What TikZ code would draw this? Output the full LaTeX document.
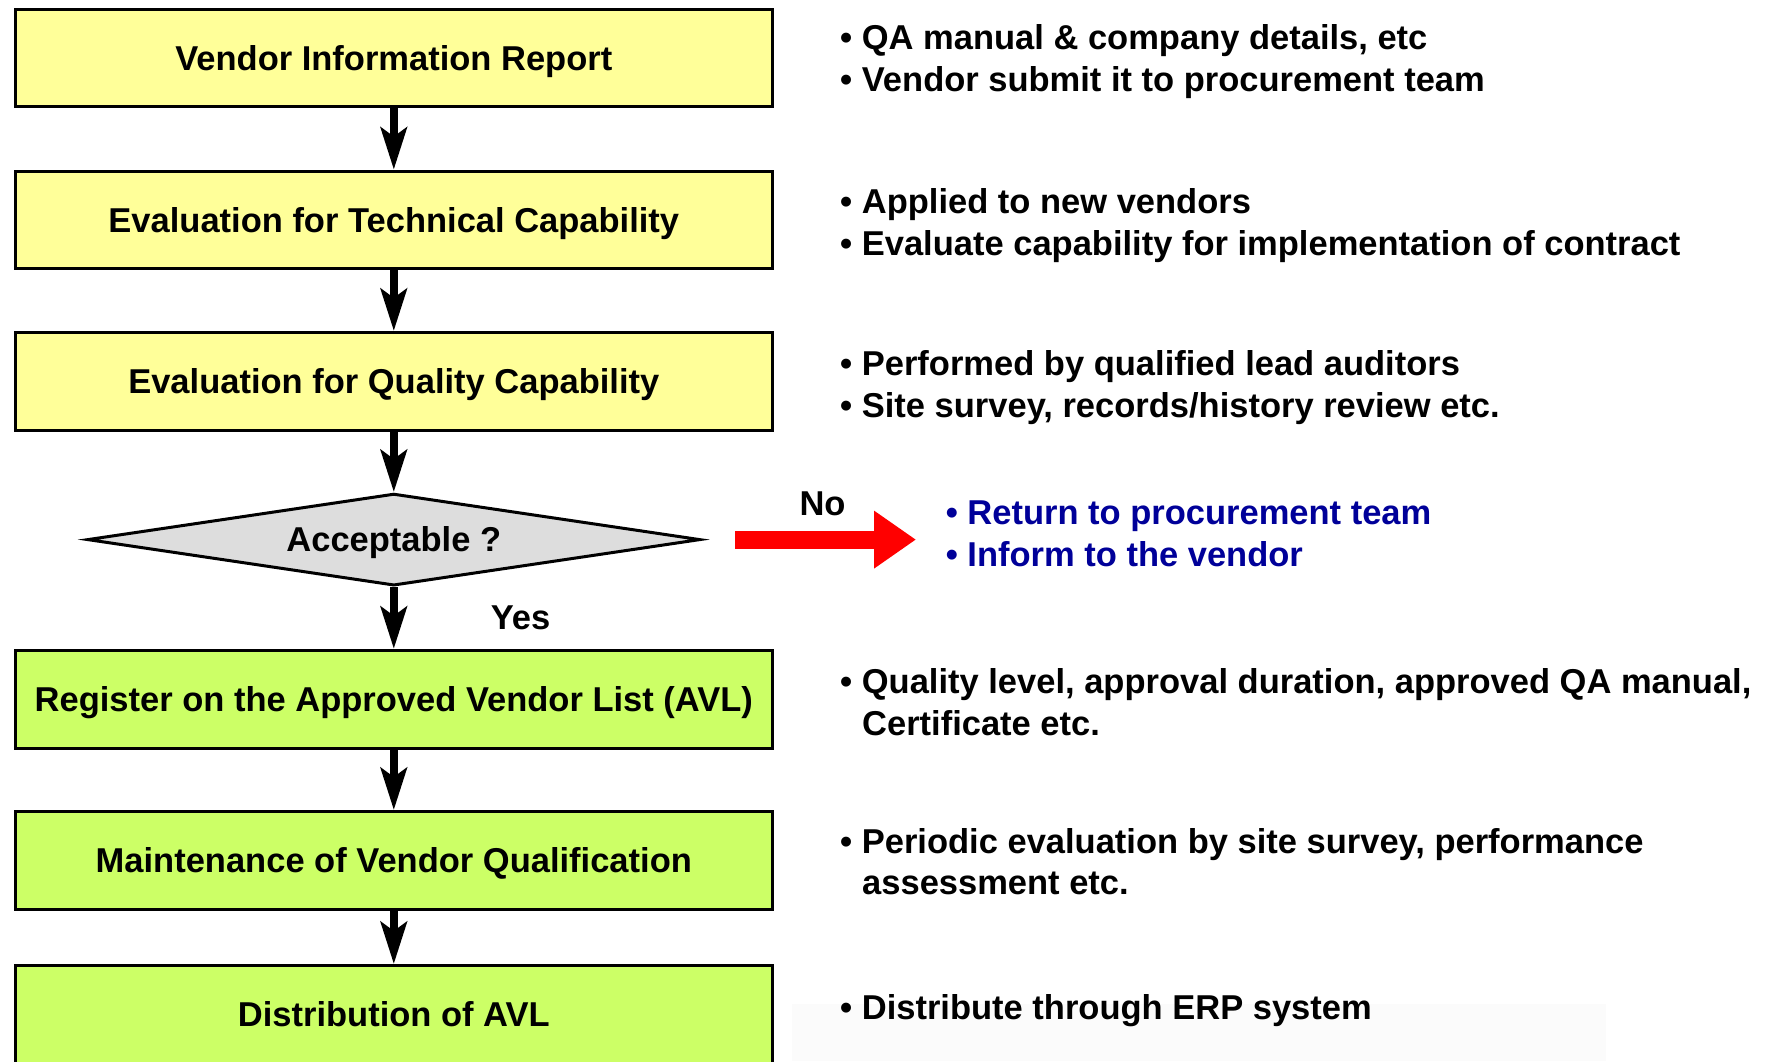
\documentclass[tikz,border=0pt]{standalone}
\usepackage{fontspec}
\setmainfont{Liberation Sans}
\usetikzlibrary{arrows.meta,shapes.geometric}
\definecolor{boxyellow}{RGB}{255,255,153}
\definecolor{boxgreen}{RGB}{204,255,102}
\definecolor{diagray}{RGB}{221,221,221}
\definecolor{noteblue}{RGB}{0,0,153}
\definecolor{faint}{RGB}{251,251,251}
\begin{document}
\begin{tikzpicture}[x=1pt,y=-1pt,
  font=\fontsize{34.5}{41.4}\selectfont\bfseries,
  stepbox/.style={draw=black, line width=3pt, minimum width=757pt, minimum height=97.7pt,
    inner sep=0pt, text height=24.7pt, text depth=0pt},
  yellowbox/.style={stepbox, fill=boxyellow},
  greenbox/.style={stepbox, fill=boxgreen},
  decision/.style={diamond, draw=black, line width=3pt, fill=diagray, minimum width=613pt,
    minimum height=92pt, inner sep=0pt, aspect=6.66, text height=24.7pt, text depth=0pt},
  flow/.style={draw=black, line width=8pt, -{Stealth[length=42pt, width=26pt, inset=9pt]}},
  noarrow/.style={draw=red, line width=18pt, -{Triangle[length=42pt, width=55pt]}},
  note/.style={anchor=base west, inner sep=0pt, text=black},
  bluenote/.style={anchor=base west, inner sep=0pt, text=noteblue},
  lbl/.style={anchor=base, inner sep=0pt}
]
\useasboundingbox (0,0) rectangle (1774,1061);
\clip (0,0) rectangle (1774,1061);
\fill[white] (0,0) rectangle (1774,1061);
\fill[faint] (792,1004) rectangle (1606,1061);

% boxes
\node[yellowbox] (b1) at (393.8,58.0) {Vendor Information Report};
\node[yellowbox] (b2) at (393.8,220.0) {Evaluation for Technical Capability};
\node[yellowbox] (b3) at (393.8,381.3) {Evaluation for Quality Capability};
\node[decision]  (dia) at (393.8,539.6) {Acceptable ?};
\node[greenbox] (b4) at (393.8,699.2) {Register on the Approved Vendor List (AVL)};
\node[greenbox] (b5) at (393.8,860.4) {Maintenance of Vendor Qualification};
\node[greenbox] (b6) at (393.8,1014.4) {Distribution of AVL};

% connectors
\draw[flow] (b1.south) -- (b2.north);
\draw[flow] (b2.south) -- (b3.north);
\draw[flow] (b3.south) -- (dia.north);
\draw[flow] (dia.south) -- (b4.north);
\draw[flow] (b4.south) -- (b5.north);
\draw[flow] (b5.south) -- (b6.north);

\coordinate (nostart) at (735,539.6);
\coordinate (noend) at (916,539.6);
\draw[noarrow] (nostart) -- (noend);

\node[lbl] (nolbl) at (822.5,515.9) {No};
\node[lbl] (yeslbl) at (520.5,629.0) {Yes};

% notes
\node[note] (n1a) at (840,49.7) {• QA manual \& company details, etc};
\node[note] (n1b) at (840,91.6) {• Vendor submit it to procurement team};
\node[note] (n2a) at (840,213.8) {• Applied to new vendors};
\node[note] (n2b) at (840,255.7) {• Evaluate capability for implementation of contract};
\node[note] (n3a) at (840,375.6) {• Performed by qualified lead auditors};
\node[note] (n3b) at (840,417.4) {• Site survey, records/history review etc.};
\node[bluenote] (nba) at (945.6,524.9) {• Return to procurement team};
\node[bluenote] (nbb) at (945.6,566.8) {• Inform to the vendor};
\node[note] (n4a) at (840,693.4) {• Quality level, approval duration, approved QA manual,};
\node[note] (n4b) at (862,735.4) {Certificate etc.};
\node[note] (n5a) at (840,853.0) {• Periodic evaluation by site survey, performance};
\node[note] (n5b) at (862,894.9) {assessment etc.};
\node[note] (n6a) at (840,1019.4) {• Distribute through ERP system};
\end{tikzpicture}
\end{document}
